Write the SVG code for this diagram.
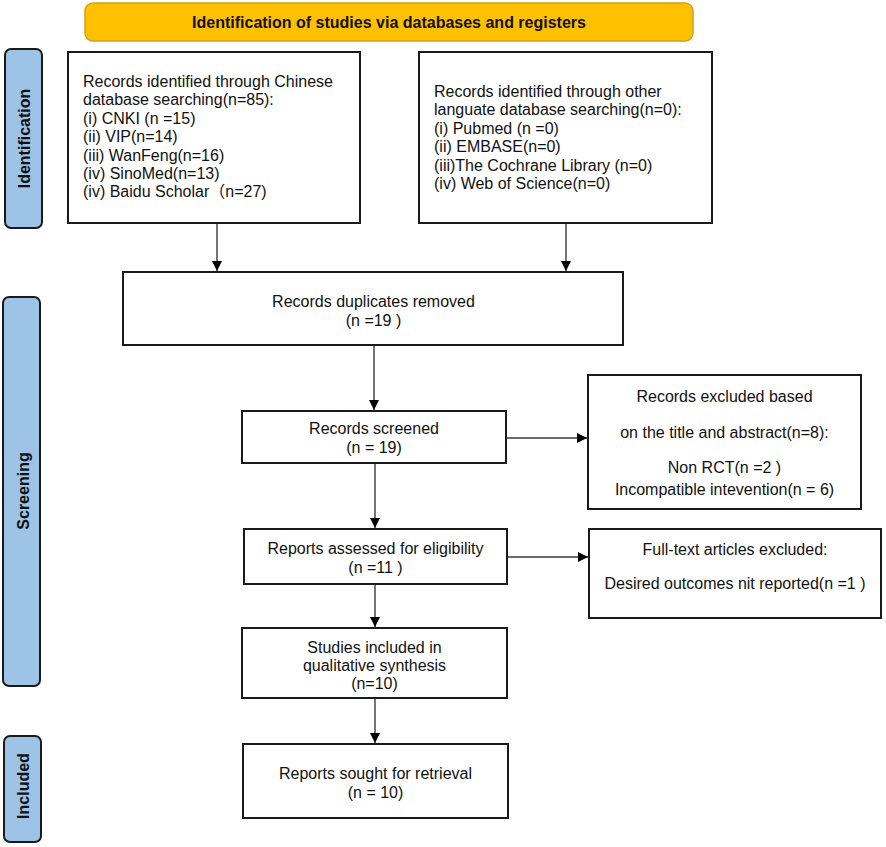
<svg xmlns="http://www.w3.org/2000/svg" width="886" height="847" viewBox="0 0 886 847">
<defs>
<style>
.box{fill:#fff;stroke:#1a1a1a;stroke-width:2}
.side{fill:#9DC3E6;stroke:#1a1a1a;stroke-width:2}
.t{font-family:"Liberation Sans",Arial,"Noto Sans CJK SC",sans-serif;font-size:16px;fill:#111}
.c{text-anchor:middle}
.b{font-weight:bold}
.conn{stroke:#3a3a3a;stroke-width:1.4;fill:none;marker-end:url(#ah)}
</style>
<marker id="ah" markerWidth="10" markerHeight="10" refX="10" refY="5" orient="auto" markerUnits="userSpaceOnUse">
<path d="M0,0 L10,5 L0,10 Z" fill="#000"/>
</marker>
</defs>
<rect width="886" height="847" fill="#fff"/>

<g id="header">
<rect x="85" y="3" width="608" height="38" rx="8" fill="#FFC000" stroke="#D4A017" stroke-width="1.5"/>
<text class="t b c" x="389" y="28">Identification of studies via databases and registers</text>
</g>

<g id="label-identification">
<rect class="side" x="5" y="49" width="37" height="179" rx="6"/>
<text class="t b c" x="30" y="138.5" transform="rotate(-90 30 138.5)">Identification</text>
</g>
<g id="label-screening">
<rect class="side" x="3" y="297" width="37" height="389" rx="6"/>
<text class="t b c" x="29" y="491" transform="rotate(-90 29 491)">Screening</text>
</g>
<g id="label-included">
<rect class="side" x="4" y="736" width="37" height="106" rx="6"/>
<text class="t b c" x="29" y="786" transform="rotate(-90 29 786)">Included</text>
</g>

<g id="box-chinese">
<rect class="box" x="68" y="52" width="292" height="171"/>
<text class="t" x="83" y="87">Records identified through Chinese</text>
<text class="t" x="83" y="105.4">database searching(n=85):</text>
<text class="t" x="83" y="123.8">(i) CNKI (n =15)</text>
<text class="t" x="83" y="142.2">(ii) VIP(n=14)</text>
<text class="t" x="83" y="160.6">(iii) WanFeng(n=16)</text>
<text class="t" x="83" y="179">(iv) SinoMed(n=13)</text>
<text class="t" x="83" y="197.4">(iv) Baidu Scholar（n=27)</text>
</g>

<g id="box-other">
<rect class="box" x="419" y="52" width="293" height="171"/>
<text class="t" x="434" y="97">Records identified through other</text>
<text class="t" x="434" y="115.4">languate database searching(n=0):</text>
<text class="t" x="434" y="133.8">(i) Pubmed (n =0)</text>
<text class="t" x="434" y="152.2">(ii) EMBASE(n=0)</text>
<text class="t" x="434" y="170.6">(iii)The Cochrane Library (n=0)</text>
<text class="t" x="434" y="189">(iv) Web of Science(n=0)</text>
</g>

<g id="box-duplicates">
<rect class="box" x="123" y="272" width="500" height="73"/>
<text class="t c" x="373.5" y="307">Records duplicates removed</text>
<text class="t c" x="373.5" y="326">(n =19 )</text>
</g>

<g id="box-screened">
<rect class="box" x="242" y="411" width="264" height="52"/>
<text class="t c" x="374" y="434">Records screened</text>
<text class="t c" x="374" y="453">(n = 19)</text>
</g>

<g id="box-excluded">
<rect class="box" x="588" y="375" width="273" height="134"/>
<text class="t c" x="724.5" y="402">Records excluded based</text>
<text class="t c" x="724.5" y="438">on the title and abstract(n=8):</text>
<text class="t c" x="724.5" y="473">Non RCT(n =2 )</text>
<text class="t c" x="724.5" y="495">Incompatible intevention(n = 6)</text>
</g>

<g id="box-eligibility">
<rect class="box" x="244" y="529" width="263" height="55"/>
<text class="t c" x="375.5" y="554">Reports assessed for eligibility</text>
<text class="t c" x="375.5" y="573">(n =11 )</text>
</g>

<g id="box-fulltext">
<rect class="box" x="589" y="529" width="292" height="89"/>
<text class="t c" x="735" y="555">Full-text articles excluded:</text>
<text class="t c" x="735" y="589">Desired outcomes nit reported(n =1 )</text>
</g>

<g id="box-included">
<rect class="box" x="242" y="628" width="265" height="70"/>
<text class="t c" x="374.5" y="653">Studies included in</text>
<text class="t c" x="374.5" y="671">qualitative synthesis</text>
<text class="t c" x="374.5" y="689">(n=10)</text>
</g>

<g id="box-retrieval">
<rect class="box" x="243" y="744" width="265" height="74"/>
<text class="t c" x="375.5" y="779">Reports sought for retrieval</text>
<text class="t c" x="375.5" y="798">(n = 10)</text>
</g>

<g id="connectors">
<line class="conn" x1="217" y1="224" x2="217" y2="271"/>
<line class="conn" x1="566" y1="224" x2="566" y2="271"/>
<line class="conn" x1="374" y1="346" x2="374" y2="410"/>
<line class="conn" x1="507" y1="438" x2="587" y2="438"/>
<line class="conn" x1="375" y1="464" x2="375" y2="528"/>
<line class="conn" x1="508" y1="557" x2="588" y2="557"/>
<line class="conn" x1="375" y1="585" x2="375" y2="627"/>
<line class="conn" x1="375" y1="699" x2="375" y2="743"/>
</g>
</svg>
